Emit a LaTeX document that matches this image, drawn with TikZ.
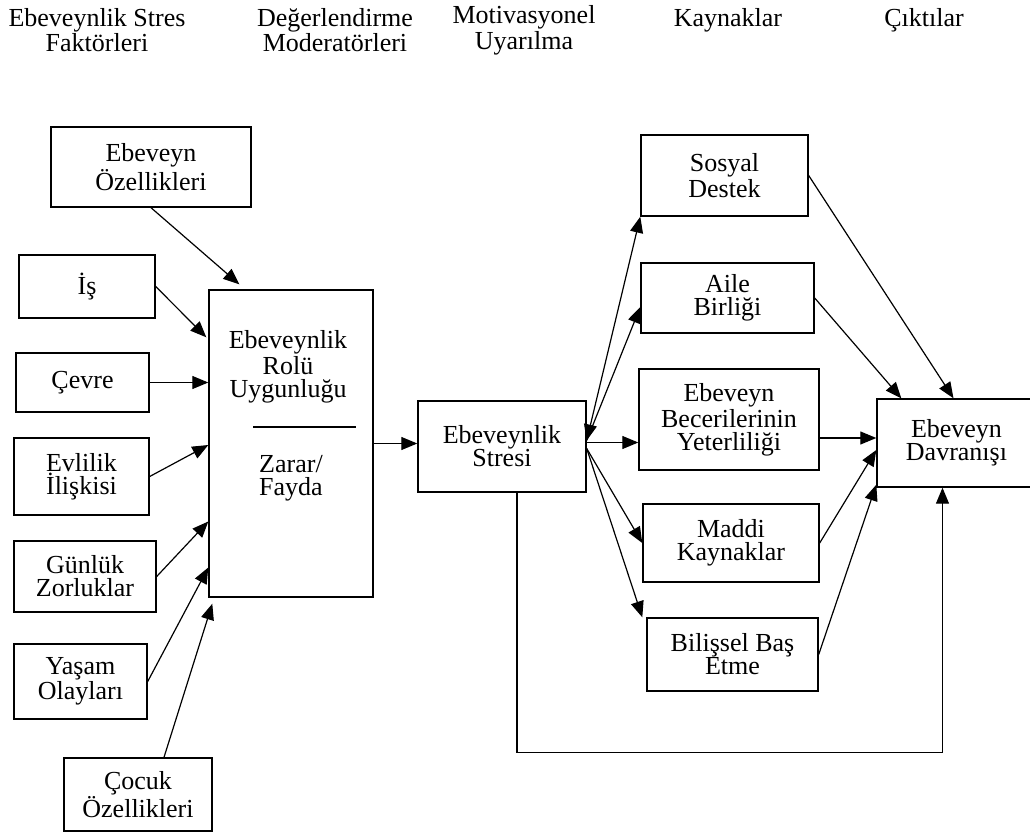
\documentclass[tikz,border=0pt]{standalone}
\usepackage{fontspec}
\setmainfont{Liberation Serif}
\usetikzlibrary{arrows.meta}

\begin{document}
\begin{tikzpicture}
			[x=0.5pt,y=-0.5pt,
			kutu/.style={draw,line width=0.7pt,align=center,inner sep=0pt,font=\fontsize{13}{11.5}\selectfont},
			baslik/.style={align=center,inner sep=0pt,font=\fontsize{13}{11.5}\selectfont},
			ok/.style={-{Triangle[length=8pt,width=6.5pt]},line width=0.6pt},
			ikiok/.style={{Triangle[length=8pt,width=6.5pt]}-{Triangle[length=8pt,width=6.5pt]},line width=0.6pt}]
			
			\useasboundingbox (0,0) rectangle (1030,835);
			
			% basliklar
			\node[baslik] (h1) at (97,30) {Ebeveynlik Stres\\Faktörleri};
			\node[baslik] (h2) at (335,30) {Değerlendirme\\Moderatörleri};
			\node[baslik] (h3) at (524,30) {Motivasyonel\\Uyarılma};
			\node[baslik] (h4) at (728,20) {Kaynaklar};
			\node[baslik] (h5) at (924,20) {Çıktılar};
			
			% sol sutun
			\node[kutu,minimum width=100pt,minimum height=40pt] (ozel) at (151,167) {Ebeveyn\\Özellikleri};
			\node[kutu,minimum width=68pt,minimum height=31.5pt] (is) at (87,286.5) {İş};
			\node[kutu,minimum width=66.5pt,minimum height=29.5pt] (cevre) at (82.5,382.5) {Çevre};
			\node[kutu,minimum width=67.5pt,minimum height=38.5pt] (evlilik) at (81.5,476.5) {Evlilik\\İlişkisi};
			\node[kutu,minimum width=71pt,minimum height=35.5pt] (gunluk) at (85,576.5) {Günlük\\Zorluklar};
			\node[kutu,minimum width=66.5pt,minimum height=37.5pt] (yasam) at (80.5,681.5) {Yaşam\\Olayları};
			\node[kutu,minimum width=74pt,minimum height=36.5pt] (cocuk) at (138,794.5) {Çocuk\\Özellikleri};
			
			% rol kutusu
			\node[kutu,minimum width=82pt,minimum height=153.5pt] (rol) at (291,443.5) {};
			\node[baslik] (rolust) at (288,367) {Ebeveynlik\\Rolü\\Uygunluğu};
			\node[baslik] (rolalt) at (291,478) {Zarar/\\Fayda};
			\draw[line width=0.6pt] (253,427) -- (356,427);
			
			\node[kutu,minimum width=84pt,minimum height=45.5pt] (stres) at (502,446.5) {Ebeveynlik\\Stresi};
			
			% kaynaklar
			\node[kutu,minimum width=83.5pt,minimum height=40.5pt] (sosyal) at (724.5,175.5) {Sosyal\\Destek};
			\node[kutu,minimum width=86.5pt,minimum height=35pt] (aile) at (727.5,298) {Aile\\Birliği};
			\node[kutu,minimum width=90pt,minimum height=50.5pt] (beceri) at (729,419.5) {Ebeveyn\\Becerilerinin\\Yeterliliği};
			\node[kutu,minimum width=88pt,minimum height=39pt] (maddi) at (731,543) {Maddi\\Kaynaklar};
			\node[kutu,minimum width=85.5pt,minimum height=36.5pt] (bilissel) at (732.5,654.5) {Bilişsel Baş\\Etme};
			
			\node[kutu,minimum width=79.5pt,minimum height=44pt] (davranis) at (956.5,443) {Ebeveyn\\Davranışı};
			
			% oklar
			\draw[ok] (ozel.south) -- ([xshift=15.5pt,yshift=2.5pt]rol.north west);
			\draw[ok] (is.east) -- ([xshift=-1pt,yshift=-24pt]rol.north west);
			\draw[ok] (cevre.east) -- (cevre.east -| rol.west);
			\draw[ok] (evlilik.east) -- ([yshift=-0.75pt]rol.west);
			\draw[ok] (gunluk.east) -- ([yshift=-39pt]rol.west);
			\draw[ok] (yasam.east) -- ([yshift=-62pt]rol.west);
			\draw[ok] ([xshift=13pt]cocuk.north) -- ([xshift=2pt,yshift=-3pt]rol.south west);
			\draw[ok] (rol.east) -- (rol.east -| stres.west);
			
			\coordinate (hub) at ([yshift=3pt]stres.east);
			\coordinate (hubalt) at ([yshift=-1pt]stres.east);
			\draw[ikiok] (hub) -- (sosyal.south west);
			\draw[ok] (hub) -- ([yshift=-4.5pt]aile.west);
			\draw[ok] ([yshift=2pt]stres.east) -- ([yshift=2pt]stres.east -| beceri.west);
			\draw[ok] (hubalt) -- (maddi.west);
			\draw[ok] (hubalt) -- ([xshift=-2pt]bilissel.north west);
			
			\coordinate (davin) at ([yshift=2.5pt]davranis.west);
			\draw[ok] (sosyal.east) -- ([xshift=-1.5pt]davranis.north);
			\draw[ok] (aile.east) -- ([xshift=12.5pt]davranis.north west);
			\draw[ok] (beceri.east |- davin) -- (davin);
			\draw[ok] (maddi.east) -- ([yshift=-3.5pt]davranis.west);
			\draw[ok] (bilissel.east) -- ([yshift=1.5pt]davranis.south west);
			\draw[ok] ([xshift=7.5pt]stres.south) -- ++(0,260) -| ([xshift=-7pt]davranis.south);
			
		\end{tikzpicture}
\end{document}
